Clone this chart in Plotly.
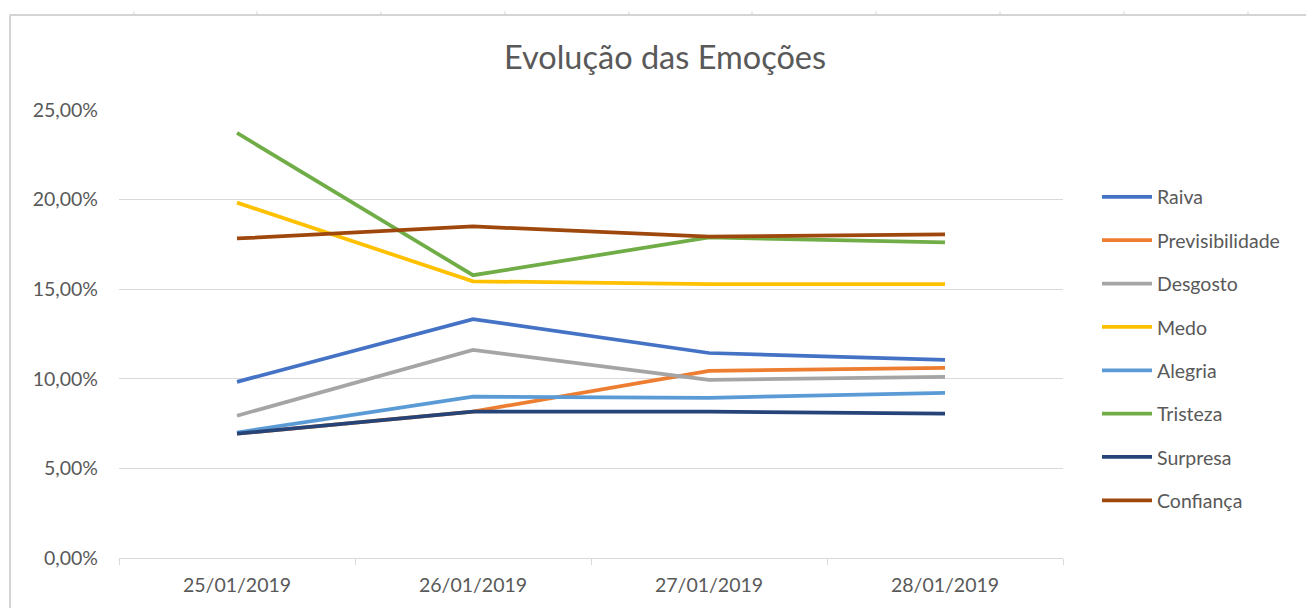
import plotly.graph_objects as go

datas = ["25/01/2019", "26/01/2019", "27/01/2019", "28/01/2019"]

raiva = [0.0983, 0.1333, 0.1144, 0.1106]
previsibilidade = [0.0694, 0.0817, 0.1044, 0.1061]
desgosto = [0.0794, 0.1161, 0.0994, 0.1011]
medo = [0.1983, 0.1544, 0.1528, 0.1528]
alegria = [0.0700, 0.0900, 0.0894, 0.0922]
tristeza = [0.2372, 0.1578, 0.1789, 0.1761]
surpresa = [0.0694, 0.0817, 0.0817, 0.0806]
confianca = [0.1783, 0.1850, 0.1794, 0.1806]

series = [
    ("Raiva", raiva, "#4472C4"),
    ("Previsibilidade", previsibilidade, "#ED7D31"),
    ("Desgosto", desgosto, "#A5A5A5"),
    ("Medo", medo, "#FFC000"),
    ("Alegria", alegria, "#5B9BD5"),
    ("Tristeza", tristeza, "#70AD47"),
    ("Surpresa", surpresa, "#264478"),
    ("Confiança", confianca, "#9E480E"),
]

# page has an 8px body margin, so the figure is laid out in shifted coordinates
OFF = 8
W, H = 1314 - 2 * OFF, 616 - 2 * OFF
L, R, T, B = 119 - OFF, 1063 - OFF, 110 - OFF, 560 - OFF

fig = go.Figure()
for name, vals, color in series:
    fig.add_trace(go.Scatter(
        x=datas, y=vals, name=name, mode="lines",
        line=dict(color=color, width=3.75),
        legendgroup=name,
    ))

def px(x):
    return (x - OFF - L) / (R - L)

def py(y):
    return (B - (y - OFF)) / (B - T)

frame = "#d4d4d4"
shapes = [
    dict(type="line", xref="paper", yref="paper", x0=px(10), x1=px(1314), y0=py(14.5), y1=py(14.5),
         line=dict(color=frame, width=2)),
    dict(type="line", xref="paper", yref="paper", x0=px(10), x1=px(10), y0=py(14), y1=py(616),
         line=dict(color=frame, width=2)),
]
for tx in [134, 257, 381, 505, 629, 752, 876, 1000, 1124, 1248]:
    shapes.append(dict(type="line", xref="paper", yref="paper", x0=px(tx), x1=px(tx),
                       y0=py(11), y1=py(14), line=dict(color=frame, width=1)))

font_family = "Lato, 'Open Sans', sans-serif"
fig.update_layout(
    width=W, height=H,
    margin=dict(l=L, r=W - R, t=T, b=H - B),
    paper_bgcolor="white", plot_bgcolor="white",
    separators=",.",
    font=dict(family=font_family, color="#595959", size=19),
    title=dict(text="Evolução das Emoções", x=(665 - OFF) / W, xanchor="center",
               y=1 - (58 - OFF) / H, yanchor="middle", font=dict(size=32.5, color="#595959")),
    xaxis=dict(type="category", showgrid=False, showline=True, linecolor="#d9d9d9", linewidth=1,
               ticks="outside", tickson="boundaries", ticklen=6, tickcolor="#d9d9d9",
               ticklabelstandoff=10,
               tickfont=dict(size=19.5, color="#595959"), range=[-0.5, 3.5]),
    yaxis=dict(range=[0, 0.25], dtick=0.05, tickformat=".2%", showgrid=True,
               gridcolor="#d9d9d9", gridwidth=1, zeroline=False, showline=False,
               ticks="", ticklabelstandoff=20, tickfont=dict(size=19.5, color="#595959")),
    legend=dict(x=px(1097), xanchor="left", y=py(178), yanchor="top",
                font=dict(size=19.5, color="#595959"), traceorder="grouped",
                tracegroupgap=15, itemwidth=50, bgcolor="rgba(0,0,0,0)"),
    shapes=shapes,
)

fig.write_html("out.html")
